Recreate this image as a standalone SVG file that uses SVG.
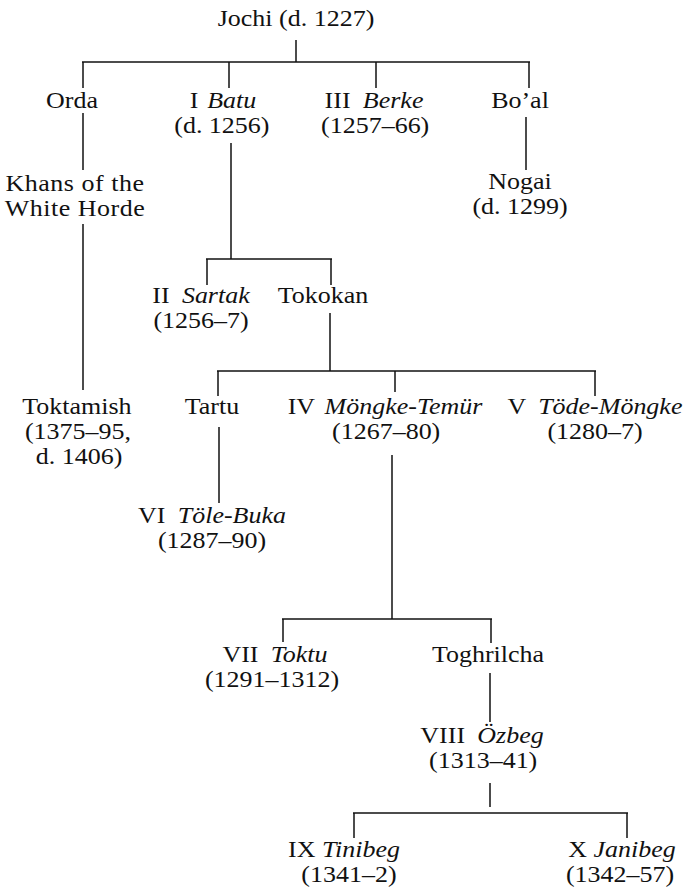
<svg xmlns="http://www.w3.org/2000/svg" width="686" height="894" viewBox="0 0 686 894">
<style>
text{font-family:"Liberation Serif","Times New Roman",serif;font-size:22.5px;fill:#111;text-anchor:middle}
.i{font-style:italic}
.w{letter-spacing:0.45px}
.c line{stroke:#111;stroke-width:1.5;fill:none}
</style>
<rect width="686" height="894" fill="#fff"/>
<g class="c" id="connectors">
<line x1="296" y1="40" x2="296" y2="62"/>
<line x1="82" y1="62" x2="530" y2="62"/>
<line x1="83" y1="62" x2="83" y2="88"/>
<line x1="229" y1="62" x2="229" y2="88"/>
<line x1="376" y1="62" x2="376" y2="88"/>
<line x1="529" y1="62" x2="529" y2="88"/>
<line x1="83" y1="113" x2="83" y2="170"/>
<line x1="83" y1="224" x2="83" y2="390"/>
<line x1="526" y1="117" x2="526" y2="170"/>
<line x1="231" y1="143" x2="231" y2="259"/>
<line x1="206" y1="259" x2="332" y2="259"/>
<line x1="207" y1="259" x2="207" y2="285"/>
<line x1="331" y1="259" x2="331" y2="285"/>
<line x1="330" y1="313" x2="330" y2="371"/>
<line x1="217" y1="371" x2="596" y2="371"/>
<line x1="218" y1="371" x2="218" y2="396"/>
<line x1="395" y1="371" x2="395" y2="392"/>
<line x1="595" y1="371" x2="595" y2="396"/>
<line x1="219" y1="427" x2="219" y2="503"/>
<line x1="392" y1="455" x2="392" y2="619"/>
<line x1="282" y1="619" x2="492" y2="619"/>
<line x1="283" y1="619" x2="283" y2="642"/>
<line x1="491" y1="619" x2="491" y2="643"/>
<line x1="490" y1="673" x2="490" y2="722"/>
<line x1="490" y1="783" x2="490" y2="807"/>
<line x1="353" y1="813" x2="628" y2="813"/>
<line x1="354" y1="813" x2="354" y2="838"/>
<line x1="627" y1="813" x2="627" y2="838"/>
</g>
<g id="jochi"><text transform="matrix(1.155 0 0 1 296 0)" x="0" y="26">Jochi (d. 1227)</text></g>
<g id="orda"><text transform="matrix(1.155 0 0 1 72 0)" x="0" y="108">Orda</text></g>
<g id="batu"><text transform="matrix(1.155 0 0 1 223 0)" y="108"><tspan x="0">I <tspan class="i" dx="2">Batu</tspan></tspan><tspan x="-1" dy="25">(d. 1256)</tspan></text></g>
<g id="berke"><text transform="matrix(1.155 0 0 1 374 0)" y="108"><tspan x="0">III <tspan class="i" dx="5">Berke</tspan></tspan><tspan x="1" dy="25">(1257–66)</tspan></text></g>
<g id="boal"><text transform="matrix(1.155 0 0 1 520 0)" x="0" y="108">Bo’al</text></g>
<g id="white-horde"><text class="w" transform="matrix(1.155 0 0 1 75 0)" y="191"><tspan x="0">Khans of the</tspan><tspan x="0" dy="25">White Horde</tspan></text></g>
<g id="nogai"><text transform="matrix(1.155 0 0 1 520 0)" y="189"><tspan x="0">Nogai</tspan><tspan x="0" dy="25">(d. 1299)</tspan></text></g>
<g id="sartak"><text transform="matrix(1.155 0 0 1 201 0)" y="303"><tspan x="0">II <tspan class="i" dx="5">Sartak</tspan></tspan><tspan x="0" dy="25">(1256–7)</tspan></text></g>
<g id="tokokan"><text transform="matrix(1.155 0 0 1 323 0)" x="0" y="303">Tokokan</text></g>
<g id="toktamish"><text transform="matrix(1.155 0 0 1 78 0)" y="414"><tspan x="-1">Toktamish</tspan><tspan x="0" dy="25">(1375–95,</tspan><tspan x="1" dy="25">d. 1406)</tspan></text></g>
<g id="tartu"><text transform="matrix(1.155 0 0 1 212 0)" x="0" y="414">Tartu</text></g>
<g id="mongke-temur"><text transform="matrix(1.155 0 0 1 385 0)" y="414"><tspan x="0">IV <tspan class="i" dx="3">Möngke-Temür</tspan></tspan><tspan x="1" dy="25">(1267–80)</tspan></text></g>
<g id="tode-mongke"><text transform="matrix(1.155 0 0 1 595 0)" y="414"><tspan x="0">V <tspan class="i" dx="5">Töde-Möngke</tspan></tspan><tspan x="0" dy="25">(1280–7)</tspan></text></g>
<g id="tole-buka"><text transform="matrix(1.155 0 0 1 212 0)" y="523"><tspan x="0">VI <tspan class="i" dx="5">Töle-Buka</tspan></tspan><tspan x="0" dy="25">(1287–90)</tspan></text></g>
<g id="toktu"><text transform="matrix(1.155 0 0 1 275 0)" y="662"><tspan x="0">VII <tspan class="i" dx="5">Toktu</tspan></tspan><tspan x="-2.6" dy="25">(1291–1312)</tspan></text></g>
<g id="toghrilcha"><text transform="matrix(1.155 0 0 1 488 0)" x="0" y="662">Toghrilcha</text></g>
<g id="ozbeg"><text transform="matrix(1.155 0 0 1 482 0)" y="743"><tspan x="0">VIII <tspan class="i" dx="5">Özbeg</tspan></tspan><tspan x="1" dy="25">(1313–41)</tspan></text></g>
<g id="tinibeg"><text transform="matrix(1.155 0 0 1 344 0)" y="857"><tspan x="0">IX <tspan class="i">Tinibeg</tspan></tspan><tspan x="4.3" dy="25">(1341–2)</tspan></text></g>
<g id="janibeg"><text transform="matrix(1.155 0 0 1 622 0)" y="857"><tspan x="0">X <tspan class="i">Janibeg</tspan></tspan><tspan x="-1.7" dy="25">(1342–57)</tspan></text></g>
</svg>
